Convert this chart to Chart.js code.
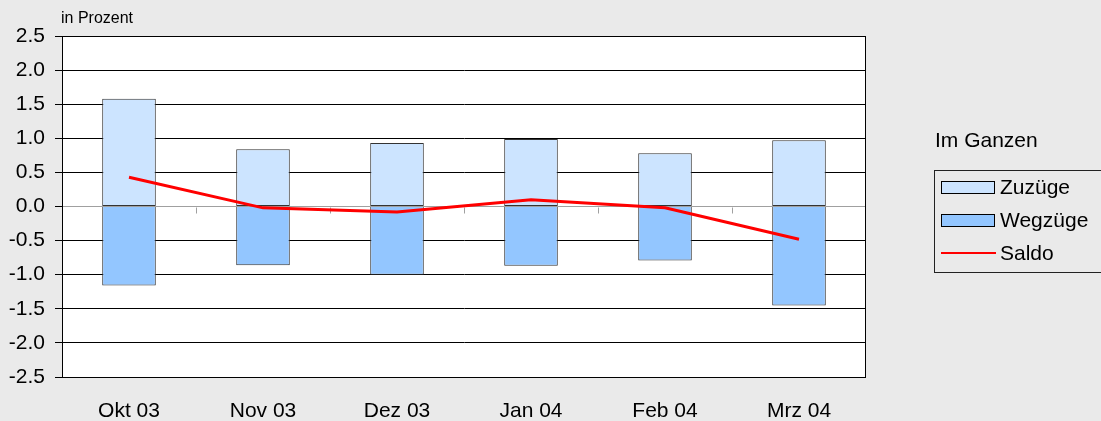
<!DOCTYPE html>
<html>
<head>
<meta charset="utf-8">
<script src="https://cdn.jsdelivr.net/npm/chart.js@4"></script>
<style>
  body { margin: 0; background: #eaeaea; font-family: 'Liberation Sans', Arial, sans-serif; }
  #wrap { position: relative; width: 1101px; height: 421px; overflow: hidden; }
  #unit { position: absolute; left: 61px; top: 9px; font-size: 16px; color: #000; }
  #legTitle { position: absolute; left: 935px; top: 128px; font-size: 21px; color: #000; }
  #legend { position: absolute; left: 934px; top: 170px; width: 180px; height: 101px; border: 1px solid #222; }
  .row { position: absolute; left: 0; height: 33px; width: 180px; }
  .sw { position: absolute; left: 6px; top: 10px; width: 52px; height: 11px; border: 1px solid #000; }
  .ln { position: absolute; left: 6px; top: 15px; width: 55px; height: 2px; }
  .lb { position: absolute; left: 65px; top: 4px; font-size: 21px; color: #000; }
</style>
</head>
<body>
<div id="wrap">
  <canvas id="c" width="1101" height="421"></canvas>
  <div id="unit">in Prozent</div>
  <div id="legTitle">Im Ganzen</div>
  <div id="legend"></div>
</div>
<script>
// Monatliche Zu- und Wegzüge, in Prozent
const categories = ['Okt 03', 'Nov 03', 'Dez 03', 'Jan 04', 'Feb 04', 'Mrz 04'];
const zuzuege = [1.58, 0.84, 0.93, 0.99, 0.78, 0.97];
const wegzuege = [-1.16, -0.86, -1.00, -0.87, -0.79, -1.45];
const saldo = [0.43, -0.02, -0.08, 0.10, -0.02, -0.48];
const yTicks = [-2.5, -2.0, -1.5, -1.0, -0.5, 0.0, 0.5, 1.0, 1.5, 2.0, 2.5];

const font = { family: "'Liberation Sans', Arial, sans-serif", size: 21 };

// white plot area + frame + small ticks on the zero line
const plotArea = {
    id: 'plotArea',
    beforeDraw(chart) {
        const { ctx, chartArea: a } = chart;
        ctx.save();
        ctx.fillStyle = '#ffffff';
        ctx.fillRect(a.left, a.top, a.right - a.left, a.bottom - a.top);
        ctx.restore();
    },
    beforeDatasetsDraw(chart) {
        const { ctx, chartArea: a, scales } = chart;
        ctx.save();
        ctx.strokeStyle = '#000';
        ctx.lineWidth = 1;
        ctx.strokeRect(a.left + 0.5, a.top + 0.5, a.right - a.left - 1, a.bottom - a.top);
        const y0 = Math.round(scales.y.getPixelForValue(0)) + 0.5;
        ctx.strokeStyle = '#a0a0a0';
        for (let i = 0; i < categories.length - 1; i++) {
            const x = Math.round((scales.x.getPixelForValue(i) + scales.x.getPixelForValue(i + 1)) / 2) + 0.5;
            ctx.beginPath();
            ctx.moveTo(x, y0);
            ctx.lineTo(x, y0 + 6);
            ctx.stroke();
        }
        ctx.restore();
    }
};

const chart = new Chart(document.getElementById('c'), {
    data: {
        labels: categories,
        datasets: [
            {
                type: 'line',
                label: 'Saldo',
                data: saldo,
                borderColor: '#ff0000',
                backgroundColor: '#ff0000',
                borderWidth: 3,
                pointRadius: 0,
                tension: 0,
                stack: 'saldo',
                order: 0
            },
            {
                type: 'bar',
                label: 'Zuzüge',
                data: zuzuege,
                backgroundColor: '#cce4ff',
                borderColor: '#333',
                borderWidth: 1,
                borderSkipped: false,
                stack: 'bars',
                order: 1
            },
            {
                type: 'bar',
                label: 'Wegzüge',
                data: wegzuege,
                backgroundColor: '#93c6ff',
                borderColor: '#333',
                borderWidth: 1,
                borderSkipped: 'start',
                stack: 'bars',
                order: 1
            }
        ]
    },
    options: {
        responsive: false,
        animation: false,
        devicePixelRatio: 1,
        layout: { padding: { top: 36, right: 235, left: 0, bottom: 0 } },
        datasets: { bar: { barPercentage: 0.4, categoryPercentage: 1 } },
        plugins: { legend: { display: false }, tooltip: { enabled: false } },
        scales: {
            x: {
                stacked: true,
                grid: { display: false, drawTicks: false },
                border: { display: false },
                ticks: { color: '#000', font: font, padding: 22, maxRotation: 0 },
                afterFit(s) { s.height = 44; }
            },
            y: {
                stacked: true,
                min: -2.5,
                max: 2.5,
                afterBuildTicks(s) { s.ticks = yTicks.map(v => ({ value: v })); },
                grid: {
                    color: c => (c.tick && c.tick.value === 0) ? '#a0a0a0' : '#000',
                    tickColor: '#000',
                    tickLength: 7
                },
                border: { display: true, color: '#000', width: 1 },
                ticks: {
                    color: '#000',
                    font: font,
                    padding: 10,
                    callback: v => Number(v).toFixed(1)
                },
                afterFit(s) { s.width = 62; }
            }
        }
    },
    plugins: [plotArea]
});

// legend built from the datasets
const legend = document.getElementById('legend');
['Zuzüge', 'Wegzüge', 'Saldo'].forEach((name, i) => {
    const ds = chart.data.datasets.find(d => d.label === name);
    const row = document.createElement('div');
    row.className = 'row';
    row.style.top = (i * 33) + 'px';
    const sw = document.createElement('div');
    if (ds.type === 'line') {
        sw.className = 'ln';
        sw.style.background = ds.borderColor;
    } else {
        sw.className = 'sw';
        sw.style.background = ds.backgroundColor;
    }
    const lb = document.createElement('div');
    lb.className = 'lb';
    lb.textContent = name;
    row.appendChild(sw);
    row.appendChild(lb);
    legend.appendChild(row);
});
</script>
</body>
</html>
